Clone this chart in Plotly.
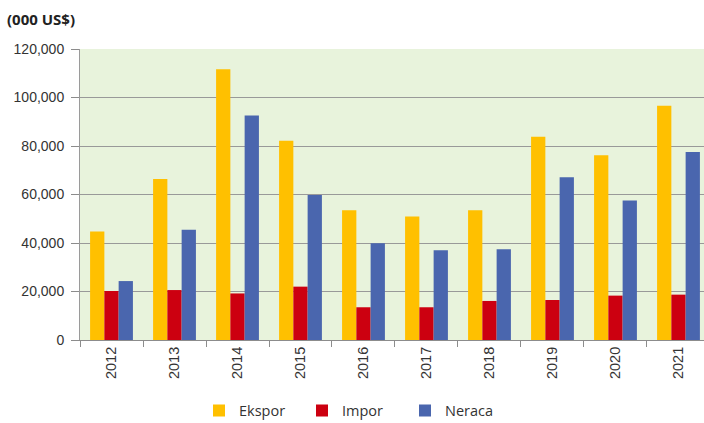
import plotly.graph_objects as go

years = ["2012", "2013", "2014", "2015", "2016", "2017", "2018", "2019", "2020", "2021"]
ekspor = [44700, 66400, 111700, 82200, 53500, 50900, 53500, 83800, 76200, 96600]
impor = [20200, 20600, 19200, 22000, 13500, 13500, 16100, 16500, 18300, 18700]
neraca = [24300, 45500, 92600, 59800, 39900, 37000, 37400, 67100, 57500, 77500]
y_ticks = [0, 20000, 40000, 60000, 80000, 100000, 120000]
y_labels = ["0", "20,000", "40,000", "60,000", "80,000", "100,000", "120,000"]

FONT = "Open Sans"
TICKFONT = "Liberation Sans"
TXT = "#333333"

fig = go.Figure()
fig.add_bar(x=years, y=ekspor, name="Ekspor", marker=dict(color="#FFC000", line=dict(width=0)))
fig.add_bar(x=years, y=impor, name="Impor", marker=dict(color="#CC0010", line=dict(width=0)))
fig.add_bar(x=years, y=neraca, name="Neraca", marker=dict(color="#4A66AE", line=dict(width=0)))

fig.update_layout(
    width=704, height=423,
    margin=dict(l=80, r=0, t=49, b=83, autoexpand=False),
    paper_bgcolor="white",
    plot_bgcolor="#E8F3DC",
    barmode="group",
    bargap=0.32,
    bargroupgap=0,
    font=dict(family=FONT, size=14, color=TXT),
    title=dict(text="<b>(000 US$)</b>", x=7/704, xanchor="left", xref="container",
               y=1-20/423, yanchor="middle", yref="container",
               font=dict(family=FONT, size=15, color="#222222")),
    legend=dict(orientation="h", x=199/704, xanchor="left", xref="container",
                y=(423-410.5)/423, yanchor="middle", yref="container",
                font=dict(family=FONT, size=14.5, color=TXT),
                traceorder="normal", itemwidth=30,
                entrywidth=58, entrywidthmode="pixels",
                bgcolor="rgba(0,0,0,0)"),
    xaxis=dict(type="category", range=[-0.5, 9.405], tickson="boundaries",
               ticks="outside", ticklen=6, tickcolor="#8c8c8c",
               showline=True, linecolor="#8c8c8c", linewidth=1,
               tickangle=-90, tickfont=dict(family=TICKFONT, size=14.5, color=TXT),
               showgrid=False, fixedrange=True, automargin=False),
    yaxis=dict(range=[0, 120000], tickvals=y_ticks, ticktext=y_labels,
               ticks="outside", ticklen=8, tickcolor="#8c8c8c",
               showline=True, linecolor="#9a9a9a", linewidth=1,
               showgrid=True, gridcolor="#999999", gridwidth=1,
               zeroline=False, automargin=False, ticklabelstandoff=4,
               tickfont=dict(family=TICKFONT, size=14, color=TXT)),
)

fig.write_html("out.html", config={"displayModeBar": False},
               post_script="document.body.style.margin='0';document.body.style.overflow='hidden';")
